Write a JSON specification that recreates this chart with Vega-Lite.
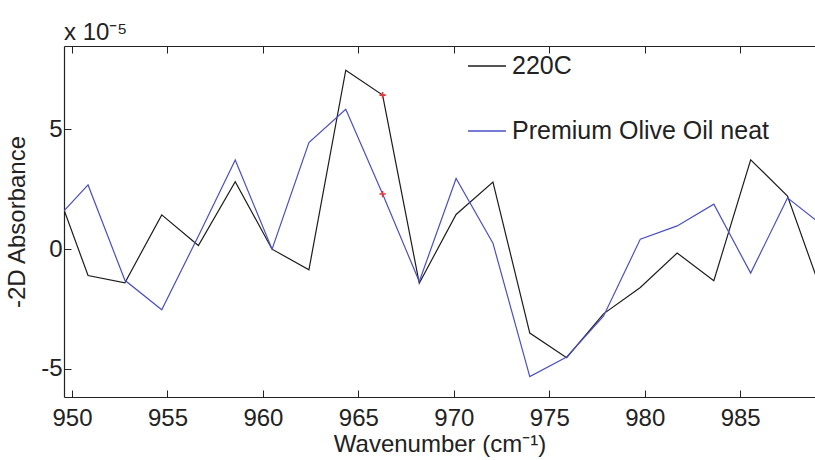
{
  "$schema": "https://vega.github.io/schema/vega-lite/v6.json",
  "width": 751,
  "height": 351,
  "autosize": {"type": "none"},
  "padding": {"left": 64, "top": 46, "right": 0, "bottom": 63},
  "background": "white",
  "config": {
    "view": {"stroke": null},
    "font": "Liberation Sans",
    "axis": {"grid": false, "domainColor": "#222", "tickColor": "#222", "labelColor": "#222", "titleColor": "#222", "labelFont": "Liberation Sans", "titleFont": "Liberation Sans", "labelFontSize": 24, "titleFontSize": 24, "titleFontWeight": "normal", "domainWidth": 1.2, "tickWidth": 1}
  },
  "title": {"text": "x 10⁻⁵", "anchor": "start", "frame": "group", "fontSize": 24, "fontWeight": "normal", "color": "#222", "font": "Liberation Sans", "offset": -18, "baseline": "alphabetic"},
  "datasets": {
    "spectra": [
      {"wn": 948.91, "val": 3.1, "series": "220C"},
      {"wn": 950.84, "val": -1.1, "series": "220C"},
      {"wn": 952.77, "val": -1.4, "series": "220C"},
      {"wn": 954.70, "val": 1.43, "series": "220C"},
      {"wn": 956.62, "val": 0.15, "series": "220C"},
      {"wn": 958.55, "val": 2.82, "series": "220C"},
      {"wn": 960.48, "val": 0.0, "series": "220C"},
      {"wn": 962.41, "val": -0.86, "series": "220C"},
      {"wn": 964.34, "val": 7.47, "series": "220C"},
      {"wn": 966.27, "val": 6.43, "series": "220C"},
      {"wn": 968.19, "val": -1.42, "series": "220C"},
      {"wn": 970.12, "val": 1.45, "series": "220C"},
      {"wn": 972.05, "val": 2.8, "series": "220C"},
      {"wn": 973.98, "val": -3.5, "series": "220C"},
      {"wn": 975.91, "val": -4.53, "series": "220C"},
      {"wn": 977.84, "val": -2.7, "series": "220C"},
      {"wn": 979.77, "val": -1.6, "series": "220C"},
      {"wn": 981.70, "val": -0.16, "series": "220C"},
      {"wn": 983.62, "val": -1.32, "series": "220C"},
      {"wn": 985.55, "val": 3.73, "series": "220C"},
      {"wn": 987.48, "val": 2.22, "series": "220C"},
      {"wn": 989.41, "val": -2.1, "series": "220C"},
      {"wn": 948.91, "val": 1.03, "series": "Premium Olive Oil neat"},
      {"wn": 950.84, "val": 2.68, "series": "Premium Olive Oil neat"},
      {"wn": 952.77, "val": -1.3, "series": "Premium Olive Oil neat"},
      {"wn": 954.70, "val": -2.53, "series": "Premium Olive Oil neat"},
      {"wn": 956.62, "val": 0.55, "series": "Premium Olive Oil neat"},
      {"wn": 958.55, "val": 3.72, "series": "Premium Olive Oil neat"},
      {"wn": 960.48, "val": 0.0, "series": "Premium Olive Oil neat"},
      {"wn": 962.41, "val": 4.45, "series": "Premium Olive Oil neat"},
      {"wn": 964.34, "val": 5.84, "series": "Premium Olive Oil neat"},
      {"wn": 966.27, "val": 2.3, "series": "Premium Olive Oil neat"},
      {"wn": 968.19, "val": -1.35, "series": "Premium Olive Oil neat"},
      {"wn": 970.12, "val": 2.95, "series": "Premium Olive Oil neat"},
      {"wn": 972.05, "val": 0.25, "series": "Premium Olive Oil neat"},
      {"wn": 973.98, "val": -5.32, "series": "Premium Olive Oil neat"},
      {"wn": 975.91, "val": -4.5, "series": "Premium Olive Oil neat"},
      {"wn": 977.84, "val": -2.8, "series": "Premium Olive Oil neat"},
      {"wn": 979.77, "val": 0.42, "series": "Premium Olive Oil neat"},
      {"wn": 981.70, "val": 0.97, "series": "Premium Olive Oil neat"},
      {"wn": 983.62, "val": 1.88, "series": "Premium Olive Oil neat"},
      {"wn": 985.55, "val": -1.0, "series": "Premium Olive Oil neat"},
      {"wn": 987.48, "val": 2.14, "series": "Premium Olive Oil neat"},
      {"wn": 989.41, "val": 0.93, "series": "Premium Olive Oil neat"}
    ],
    "markers": [
      {"wn": 966.27, "val": 6.43},
      {"wn": 966.27, "val": 2.3}
    ]
  },
  "layer": [
    {
      "data": {"name": "spectra"},
      "mark": {"type": "line", "clip": true, "strokeWidth": 1.2},
      "encoding": {
        "x": {
          "field": "wn", "type": "quantitative",
          "scale": {"domain": [949.58, 988.92], "nice": false, "zero": false},
          "axis": {"orient": "bottom", "title": "Wavenumber (cm⁻¹)", "values": [950, 955, 960, 965, 970, 975, 980, 985], "tickSize": -7, "labelPadding": 16, "titlePadding": 2, "labelFlush": false}
        },
        "y": {
          "field": "val", "type": "quantitative",
          "scale": {"domain": [-6.17, 8.48], "nice": false, "zero": false},
          "axis": {"title": "-2D Absorbance", "values": [-5, 0, 5], "labelExpr": "'' + datum.value", "tickSize": -7, "labelPadding": 9, "titlePadding": 11}
        },
        "color": {
          "field": "series", "type": "nominal",
          "scale": {"domain": ["220C", "Premium Olive Oil neat"], "range": ["#1c1c1c", "#4b4fc4"]},
          "legend": {"title": null, "orient": "none", "legendX": 403, "legendY": 0, "symbolType": "stroke", "symbolSize": 1444, "symbolStrokeWidth": 1.3, "labelFontSize": 25, "labelFont": "Liberation Sans", "labelColor": "#222", "labelOffset": 5, "labelLimit": 500, "rowPadding": 32, "padding": 0}
        }
      }
    },
    {
      "data": {"name": "markers"},
      "mark": {"type": "point", "shape": "M-1,0H1M0,-1V1", "size": 40, "stroke": "#e8333a", "strokeWidth": 1.6, "filled": false, "opacity": 1},
      "encoding": {
        "x": {
          "field": "wn", "type": "quantitative",
          "scale": {"domain": [949.58, 988.92], "nice": false, "zero": false},
          "axis": {"orient": "top", "title": null, "labels": false, "values": [950, 955, 960, 965, 970, 975, 980, 985], "tickSize": -7}
        },
        "y": {
          "field": "val", "type": "quantitative",
          "scale": {"domain": [-6.17, 8.48], "nice": false, "zero": false},
          "axis": {"title": "-2D Absorbance", "values": [-5, 0, 5], "labelExpr": "'' + datum.value", "tickSize": -7, "labelPadding": 9, "titlePadding": 11}
        }
      }
    }
  ],
  "resolve": {"axis": {"x": "independent"}}
}
